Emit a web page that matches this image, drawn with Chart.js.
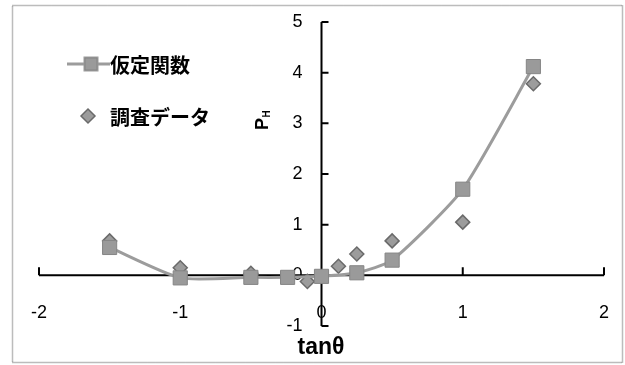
<!DOCTYPE html>
<html>
<head>
<meta charset="utf-8">
<script src="https://cdn.jsdelivr.net/npm/chart.js@4/dist/chart.umd.min.js"></script>
<style>
  html, body { margin: 0; padding: 0; background: #fff; }
  #wrap { position: relative; width: 625px; height: 365px; }
</style>
</head>
<body>
<div id="wrap"><canvas id="c" width="625" height="365"></canvas></div>
<script>
// Series labels
const modelLabel = '仮定関数';
const surveyLabel = '調査データ';

// Assumed function (smoothed line with square markers)
const modelX = [-1.5, -1, -0.5, -0.24, 0, 0.25, 0.5, 1, 1.5];
const modelY = [0.55, -0.05, -0.04, -0.04, -0.02, 0.05, 0.3, 1.7, 4.12];

// Survey data (diamond markers only)
const surveyX = [-1.5, -1, -0.5, -0.1, 0.12, 0.25, 0.5, 1, 1.5];
const surveyY = [0.68, 0.15, 0.04, -0.12, 0.18, 0.42, 0.68, 1.05, 3.78];

// Axis ranges and titles
const xRange = [-2, 2];
const yRange = [-1, 5];
const xTitle = 'tanθ';
const yTitleMain = 'P';
const yTitleSub = 'H';

const toPoints = (xs, ys) => xs.map((v, i) => ({ x: v, y: ys[i] }));

const tickFont = { family: 'Liberation Sans', size: 18 };

// Dotted outer frame, plus axes that cross at the origin with inward ticks
const frameAndAxes = {
  id: 'frameAndAxes',
  beforeDraw(chart) {
    const ctx = chart.ctx;
    ctx.save();
    ctx.fillStyle = '#fff';
    ctx.fillRect(0, 0, chart.width, chart.height);
    ctx.strokeStyle = '#7a7a7a';
    ctx.lineWidth = 1.5;
    ctx.setLineDash([1, 1]);
    ctx.strokeRect(12.5, 5.5, 610, 357);
    ctx.restore();
  },
  beforeDatasetsDraw(chart) {
    const { ctx, scales: { x, y } } = chart;
    const x0 = x.getPixelForValue(0);
    const y0 = y.getPixelForValue(0);
    ctx.save();
    ctx.strokeStyle = '#000';
    ctx.lineWidth = 2;
    ctx.beginPath();
    ctx.moveTo(x.getPixelForValue(x.min), y0);
    ctx.lineTo(x.getPixelForValue(x.max), y0);
    x.ticks.forEach(t => {
      const px = x.getPixelForValue(t.value);
      ctx.moveTo(px, y0);
      ctx.lineTo(px, y0 - 8);
    });
    ctx.moveTo(x0, y.getPixelForValue(y.max));
    ctx.lineTo(x0, y.getPixelForValue(y.min));
    y.ticks.forEach(t => {
      const py = y.getPixelForValue(t.value);
      ctx.moveTo(x0, py);
      ctx.lineTo(x0 + 7, py);
    });
    ctx.stroke();
    ctx.restore();
  },
  afterDraw(chart) {
    const ctx = chart.ctx;
    ctx.save();
    ctx.fillStyle = '#000';
    // x-axis title
    ctx.font = 'bold 23px "Liberation Sans"';
    ctx.textAlign = 'center';
    ctx.textBaseline = 'middle';
    ctx.fillText(xTitle, 321, 348);
    // y-axis title, rotated, with subscript
    ctx.translate(268, 130);
    ctx.rotate(-Math.PI / 2);
    ctx.textAlign = 'left';
    ctx.textBaseline = 'alphabetic';
    ctx.font = 'bold 18px "Liberation Sans"';
    ctx.fillText(yTitleMain, 0, 0);
    const w = ctx.measureText(yTitleMain).width;
    ctx.font = 'bold 10px "Liberation Sans"';
    ctx.fillText(yTitleSub, w + 0.5, 2);
    ctx.restore();
  }
};

// Legend drawn inside the plot, using each dataset's own styling
const insetLegend = {
  id: 'insetLegend',
  afterDraw(chart) {
    const ctx = chart.ctx;
    const rows = [
      { ds: chart.data.datasets[0], mx: 91, y: 64, line: true },
      { ds: chart.data.datasets[1], mx: 88, y: 116, line: false }
    ];
    ctx.save();
    rows.forEach(r => {
      if (r.line) {
        ctx.strokeStyle = r.ds.borderColor;
        ctx.lineWidth = r.ds.borderWidth;
        ctx.beginPath();
        ctx.moveTo(67, r.y);
        ctx.lineTo(110, r.y);
        ctx.stroke();
      }
      Chart.helpers.drawPoint(ctx, {
        pointStyle: r.ds.pointStyle,
        radius: r.line ? 8.5 : 7,
        borderWidth: r.ds.pointBorderWidth,
        rotation: 0
      }, r.mx, r.y);
      ctx.fillStyle = r.ds.pointBackgroundColor;
      ctx.strokeStyle = r.ds.pointBorderColor;
      ctx.lineWidth = r.ds.pointBorderWidth;
      ctx.fill();
      ctx.stroke();
      ctx.fillStyle = '#000';
      ctx.font = 'bold 20px "Noto Sans CJK JP"';
      ctx.textAlign = 'left';
      ctx.textBaseline = 'middle';
      ctx.fillText(r.ds.label, 110, r.y + 1);
    });
    ctx.restore();
  }
};

new Chart(document.getElementById('c'), {
  type: 'scatter',
  data: {
    datasets: [
      {
        label: modelLabel,
        data: toPoints(modelX, modelY),
        showLine: true,
        tension: 0.2,
        borderColor: '#9c9c9c',
        borderWidth: 3,
        pointStyle: 'rect',
        pointRadius: 10,
        pointHoverRadius: 10,
        pointBackgroundColor: '#9a9a9a',
        pointBorderColor: '#858585',
        pointBorderWidth: 1,
        order: 0
      },
      {
        label: surveyLabel,
        data: toPoints(surveyX, surveyY),
        showLine: false,
        pointStyle: 'rectRot',
        pointRadius: 7,
        pointHoverRadius: 7,
        pointBackgroundColor: '#9c9c9c',
        pointBorderColor: '#6a6a6a',
        pointBorderWidth: 1.5,
        order: 1
      }
    ]
  },
  options: {
    responsive: false,
    devicePixelRatio: 1,
    animation: false,
    events: [],
    layout: { padding: { left: 39, right: 21, top: 22, bottom: 39 } },
    plugins: {
      legend: { display: false },
      tooltip: { enabled: false }
    },
    scales: {
      x: {
        type: 'linear',
        // tick labels sit a little below the zero line
        position: { y: -0.53 },
        min: xRange[0],
        max: xRange[1],
        afterFit(scale) { scale.height = 0; },
        grid: { display: false, drawTicks: false },
        border: { display: false },
        ticks: { stepSize: 1, padding: 0, color: '#000', font: tickFont, maxRotation: 0 }
      },
      y: {
        type: 'linear',
        // tick labels sit a little left of the zero line
        position: { x: -0.135 },
        min: yRange[0],
        max: yRange[1],
        afterFit(scale) { scale.width = 0; },
        grid: { display: false, drawTicks: false },
        border: { display: false },
        ticks: { stepSize: 1, padding: 0, color: '#000', font: tickFont }
      }
    }
  },
  plugins: [frameAndAxes, insetLegend]
});
</script>
</body>
</html>
